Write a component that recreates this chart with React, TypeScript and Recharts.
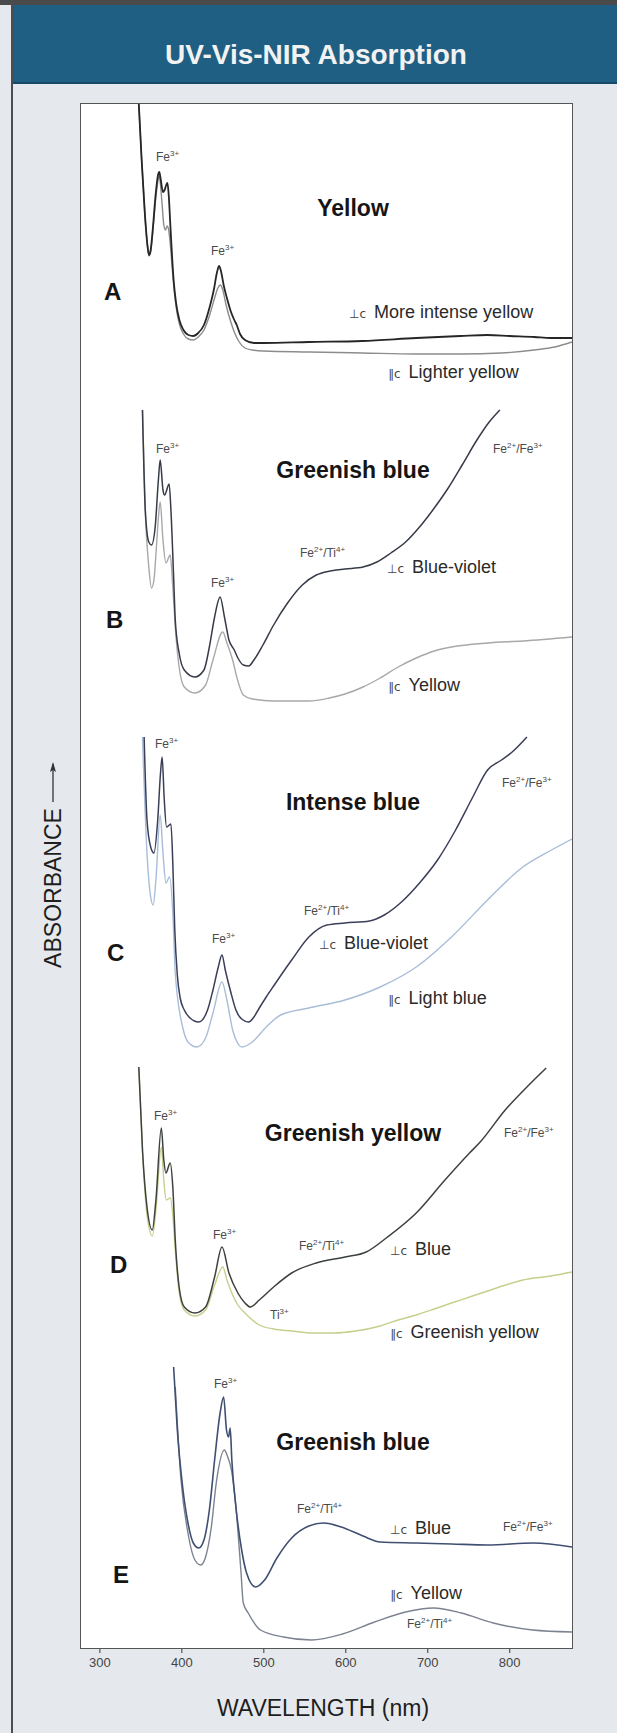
import React from "react";
import { Line, LineChart, XAxis, YAxis } from "recharts";

const FONT = '"Liberation Sans", Arial, Helvetica, sans-serif';

// plot frame in page pixels
const PLOT = { left: 81, top: 104, right: 572, bottom: 1648 };
const PX_PER_UNIT = 100;
const NM_DOMAIN: [number, number] = [277, 876];
const wavelengthTicks = [300, 400, 500, 600, 700, 800];

// A — yellow
const aPerpNm = [347.5, 351, 355, 358, 360, 362, 365, 368, 371, 372.5, 374, 377, 379, 381, 382.5, 384, 386, 388, 390, 393, 397, 402, 408, 414, 420, 427, 434, 439, 443, 445.5, 448, 451, 455, 460, 464, 467, 471, 477, 488, 500, 555, 620, 686, 740, 773, 800, 830, 850, 876];
const aPerpAbs = [2.56, 2.0, 1.45, 1.15, 1.05, 1.1, 1.35, 1.65, 1.85, 1.88, 1.82, 1.68, 1.7, 1.75, 1.77, 1.65, 1.35, 1.05, 0.8, 0.57, 0.4, 0.3, 0.25, 0.24, 0.27, 0.35, 0.53, 0.7, 0.88, 0.94, 0.88, 0.75, 0.62, 0.48, 0.4, 0.35, 0.26, 0.2, 0.17, 0.17, 0.18, 0.19, 0.22, 0.24, 0.25, 0.24, 0.23, 0.22, 0.22];
const aParNm = [347.5, 351, 355, 358, 360, 362, 365, 368, 371, 372.5, 374, 376, 378, 380, 382, 384, 386, 388, 390, 393, 397, 402, 408, 414, 420, 427, 434, 440, 444, 447, 450, 454, 459, 464, 470, 477, 486, 500, 555, 620, 686, 740, 790, 830, 855, 876];
const aParAbs = [2.56, 2.0, 1.45, 1.15, 1.04, 1.08, 1.32, 1.6, 1.8, 1.84, 1.75, 1.55, 1.35, 1.3, 1.34, 1.3, 1.15, 0.95, 0.75, 0.53, 0.36, 0.26, 0.21, 0.2, 0.23, 0.3, 0.45, 0.62, 0.72, 0.75, 0.7, 0.55, 0.4, 0.28, 0.18, 0.12, 0.1, 0.09, 0.08, 0.07, 0.06, 0.06, 0.07, 0.1, 0.13, 0.18];

// B — greenish blue
const bPerpNm = [352, 355.4, 359.7, 363, 367.5, 371.4, 373.6, 377, 379, 384.5, 386.7, 390, 392, 396.7, 403, 416, 427, 433.6, 440, 446.7, 452, 457.5, 464, 468.4, 475, 481.5, 488, 499, 512, 529, 547, 564, 581, 599, 621, 638, 655, 673, 690, 708, 725, 742, 760, 775, 788];
const bPerpAbs = [2.95, 1.95, 1.63, 1.6, 1.78, 2.25, 2.45, 2.15, 2.1, 2.21, 1.95, 1.28, 0.85, 0.52, 0.35, 0.28, 0.35, 0.58, 0.88, 1.08, 0.88, 0.65, 0.55, 0.47, 0.4, 0.39, 0.45, 0.6, 0.8, 1.02, 1.2, 1.3, 1.34, 1.36, 1.38, 1.43, 1.52, 1.63, 1.78, 1.97, 2.17, 2.4, 2.65, 2.83, 2.95];
const bParNm = [352, 355.4, 359.7, 363, 366, 369, 371.5, 373.6, 377, 380.6, 385.8, 389, 392, 396.7, 403, 416, 429, 438, 450, 455, 462, 468, 475, 486, 512, 555, 580, 599, 621, 642, 664, 686, 708, 729, 773, 816, 876];
const bParAbs = [2.95, 1.95, 1.38, 1.17, 1.25, 1.58, 1.88, 2.03, 1.65, 1.42, 1.5, 1.18, 0.78, 0.38, 0.18, 0.12, 0.2, 0.45, 0.73, 0.62, 0.45, 0.25, 0.1, 0.06, 0.04, 0.04, 0.07, 0.11, 0.18, 0.27, 0.38, 0.47, 0.54, 0.58, 0.62, 0.64, 0.68];

// C — intense blue
const cPerpNm = [354, 357.5, 362, 366, 370.6, 374, 376, 378.4, 381.4, 386.7, 389, 391.4, 394.5, 398, 403, 410, 420.6, 431.4, 438, 444.5, 449, 453, 460, 466, 473, 481.5, 488, 494.5, 503, 512, 534, 555, 577, 599, 629, 647, 668, 690, 712, 734, 755, 773, 790, 803, 821];
const cPerpAbs = [3.13, 2.3, 2.03, 1.97, 2.3, 2.77, 2.93, 2.53, 2.23, 2.26, 1.87, 1.2, 0.75, 0.52, 0.4, 0.32, 0.28, 0.4, 0.6, 0.83, 0.95, 0.8, 0.57, 0.4, 0.31, 0.28, 0.33, 0.42, 0.53, 0.64, 0.9, 1.13, 1.25, 1.27, 1.29, 1.35, 1.48, 1.67, 1.9, 2.2, 2.53, 2.8, 2.9, 2.98, 3.13];
const cParNm = [352, 357.5, 362, 365, 368.4, 373.6, 377, 380.6, 385, 389, 392, 401, 407.5, 418.4, 429, 438, 449, 455, 462, 468, 473.6, 486, 503, 520.6, 555, 599, 642, 686, 729, 773, 816, 851, 876];
const cParAbs = [3.13, 1.97, 1.53, 1.45, 1.7, 2.35, 1.97, 1.67, 1.73, 1.37, 0.77, 0.23, 0.08, 0.03, 0.12, 0.37, 0.68, 0.5, 0.2, 0.07, 0.03, 0.08, 0.23, 0.35, 0.42, 0.5, 0.63, 0.83, 1.13, 1.5, 1.83, 2.0, 2.11];

// D — greenish yellow
const dPerpNm = [347.5, 352, 357.5, 364, 368.4, 375, 378, 380.6, 385.8, 389, 392, 396.7, 403, 416, 429, 440, 449, 457.5, 468.4, 477, 483.6, 494.5, 512, 534, 564, 599, 625, 651, 686, 721, 751, 764, 794.5, 821, 844.5];
const dPerpAbs = [2.73, 1.9, 1.33, 1.1, 1.4, 2.12, 1.8, 1.67, 1.77, 1.53, 1.0, 0.53, 0.33, 0.27, 0.33, 0.63, 0.93, 0.67, 0.47, 0.37, 0.33, 0.4, 0.53, 0.67, 0.77, 0.83, 0.88, 1.03, 1.27, 1.6, 1.87, 1.98, 2.3, 2.53, 2.72];
const dParNm = [347.5, 352, 357.5, 364, 368.4, 375, 378, 381, 386, 389, 392, 396.7, 403, 416, 429, 440, 450, 455, 462, 468.4, 477, 486, 494.5, 512, 534, 560, 586, 612, 642, 664, 686, 708, 729, 751, 773, 795, 816, 850, 876];
const dParAbs = [2.73, 1.9, 1.25, 1.04, 1.3, 1.93, 1.6, 1.4, 1.42, 1.25, 0.9, 0.48, 0.3, 0.24, 0.3, 0.55, 0.73, 0.6, 0.45, 0.35, 0.27, 0.2, 0.15, 0.11, 0.09, 0.07, 0.07, 0.09, 0.14, 0.2, 0.25, 0.31, 0.37, 0.43, 0.49, 0.55, 0.6, 0.64, 0.68];

// E — greenish blue
const ePerpNm = [390, 394.5, 401, 407.5, 414, 420.6, 427, 433.6, 440, 446.7, 451, 454.5, 457, 459, 461, 466, 473, 479, 490, 501, 516, 534, 555, 573, 594.5, 621, 642, 686, 729, 773, 829, 876];
const ePerpAbs = [2.78, 2.15, 1.58, 1.22, 1.02, 0.97, 1.05, 1.35, 1.85, 2.32, 2.48, 2.15, 2.08, 2.17, 1.85, 1.38, 0.95, 0.72, 0.58, 0.65, 0.87, 1.07, 1.19, 1.22, 1.18, 1.09, 1.03, 1.02, 1.01, 1.0, 1.02, 0.98];
const eParNm = [392, 399, 407.5, 416, 423, 429, 436, 442, 452, 456, 460.5, 466, 472, 475, 481, 496, 524, 558, 596, 635, 673, 707, 741, 780, 828, 876];
const eParAbs = [2.58, 1.65, 1.12, 0.85, 0.8, 0.88, 1.18, 1.62, 1.95, 1.88, 1.75, 1.38, 0.75, 0.42, 0.32, 0.15, 0.08, 0.05, 0.11, 0.23, 0.33, 0.37, 0.32, 0.22, 0.15, 0.13];

type Pt = { nm: number; abs: number };
const pts = (nm: number[], abs: number[]): Pt[] => nm.map((x, i) => ({ nm: x, abs: abs[i] }));

// baseline = page y of zero absorbance for each stacked panel
const panels = [
  { id: "A", base: 360, par: pts(aParNm, aParAbs), perp: pts(aPerpNm, aPerpAbs), parColor: "#8c8c8c", perpColor: "#262626", perpW: 1.8 },
  { id: "B", base: 705, par: pts(bParNm, bParAbs), perp: pts(bPerpNm, bPerpAbs), parColor: "#a8a8a8", perpColor: "#363b47", perpW: 1.5 },
  { id: "C", base: 1050, par: pts(cParNm, cParAbs), perp: pts(cPerpNm, cPerpAbs), parColor: "#a9bdd8", perpColor: "#3a3e58", perpW: 1.5 },
  { id: "D", base: 1340, par: pts(dParNm, dParAbs), perp: pts(dPerpNm, dPerpAbs), parColor: "#c6cf8c", perpColor: "#3c423e", perpW: 1.5 },
  { id: "E", base: 1645, par: pts(eParNm, eParAbs), perp: pts(ePerpNm, ePerpAbs), parColor: "#7c8290", perpColor: "#3f4f72", perpW: 1.6 },
];

const panelTitles = [
  { text: "Yellow", y: 208 },
  { text: "Greenish blue", y: 470 },
  { text: "Intense blue", y: 802 },
  { text: "Greenish yellow", y: 1133 },
  { text: "Greenish blue", y: 1442 },
];
const panelLetters = [
  { text: "A", x: 104, y: 292 },
  { text: "B", x: 106, y: 620 },
  { text: "C", x: 107, y: 953 },
  { text: "D", x: 110, y: 1265 },
  { text: "E", x: 113, y: 1575 },
];
const orientLabels = [
  { sym: "⊥c", text: "More intense yellow", x: 349, y: 312 },
  { sym: "∥c", text: "Lighter yellow", x: 388, y: 372 },
  { sym: "⊥c", text: "Blue-violet", x: 387, y: 567 },
  { sym: "∥c", text: "Yellow", x: 388, y: 685 },
  { sym: "⊥c", text: "Blue-violet", x: 319, y: 943 },
  { sym: "∥c", text: "Light blue", x: 388, y: 998 },
  { sym: "⊥c", text: "Blue", x: 390, y: 1249 },
  { sym: "∥c", text: "Greenish yellow", x: 390, y: 1332 },
  { sym: "⊥c", text: "Blue", x: 390, y: 1528 },
  { sym: "∥c", text: "Yellow", x: 390, y: 1593 },
];
const FE3 = ["Fe", "3+"];
const FE_FE = ["Fe", "2+", "/Fe", "3+"];
const FE_TI = ["Fe", "2+", "/Ti", "4+"];
const ionLabels = [
  { parts: FE3, x: 156, y: 156 },
  { parts: FE3, x: 211, y: 250 },
  { parts: FE3, x: 156, y: 448 },
  { parts: FE_FE, x: 493, y: 448 },
  { parts: FE_TI, x: 300, y: 552 },
  { parts: FE3, x: 211, y: 582 },
  { parts: FE3, x: 155, y: 743 },
  { parts: FE_FE, x: 502, y: 782 },
  { parts: FE_TI, x: 304, y: 910 },
  { parts: FE3, x: 212, y: 938 },
  { parts: FE3, x: 154, y: 1115 },
  { parts: FE_FE, x: 504, y: 1132 },
  { parts: FE3, x: 213, y: 1234 },
  { parts: FE_TI, x: 299, y: 1245 },
  { parts: ["Ti", "3+"], x: 270, y: 1314 },
  { parts: FE3, x: 214, y: 1383 },
  { parts: FE_TI, x: 297, y: 1508 },
  { parts: FE_FE, x: 503, y: 1526 },
  { parts: FE_TI, x: 407, y: 1623 },
];

const abs = (x: number, y: number): React.CSSProperties => ({
  position: "absolute",
  left: x,
  top: y,
  whiteSpace: "nowrap",
  lineHeight: 1,
});

export default function App() {
  return (
    <div style={{ position: "absolute", left: 0, top: 0, width: 617, height: 1733, background: "#e5e9ed", fontFamily: FONT, overflow: "hidden" }}>
      <div style={{ position: "absolute", left: 0, top: 0, width: 617, height: 5, background: "#4a4a4a" }} />
      <div style={{ position: "absolute", left: 11, top: 5, width: 606, height: 77, background: "#1f5f83", borderBottom: "2px solid #174a68" }} />
      <div style={{ position: "absolute", left: 11, top: 0, width: 1.5, height: 1733, background: "#4d4d4d" }} />
      <div style={{ ...abs(316, 55), transform: "translate(-50%, -50%)", color: "#f2f2f2", fontWeight: 700, fontSize: 28 }}>
        UV-Vis-NIR Absorption
      </div>

      <div
        style={{
          position: "absolute",
          left: PLOT.left - 1,
          top: PLOT.top - 1,
          width: PLOT.right - PLOT.left + 2,
          height: PLOT.bottom - PLOT.top + 2,
          boxSizing: "border-box",
          border: "1.5px solid #555",
          background: "#ffffff",
        }}
      />

      <div style={{ position: "absolute", left: 0, top: 0 }}>
        <LineChart
          width={617}
          height={1733}
          margin={{ top: PLOT.top, left: PLOT.left, right: 617 - PLOT.right, bottom: 1733 - PLOT.bottom - 30 }}
        >
          <XAxis
            type="number"
            dataKey="nm"
            domain={NM_DOMAIN}
            allowDataOverflow
            ticks={wavelengthTicks}
            height={30}
            axisLine={false}
            tickLine={{ stroke: "#555", strokeWidth: 1.2 }}
            tickSize={5}
            tickMargin={5}
            tick={{ fontSize: 13, fill: "#444", fontFamily: FONT }}
          />
          {panels.map((p) => (
            <YAxis
              key={p.id}
              yAxisId={p.id}
              hide
              type="number"
              allowDataOverflow
              domain={[(p.base - PLOT.bottom) / PX_PER_UNIT, (p.base - PLOT.top) / PX_PER_UNIT]}
            />
          ))}
          {panels.map((p) => (
            <Line
              key={p.id + "par"}
              yAxisId={p.id}
              data={p.par}
              dataKey="abs"
              type="monotone"
              stroke={p.parColor}
              strokeWidth={1.4}
              dot={false}
              activeDot={false}
              isAnimationActive={false}
            />
          ))}
          {panels.map((p) => (
            <Line
              key={p.id + "perp"}
              yAxisId={p.id}
              data={p.perp}
              dataKey="abs"
              type="monotone"
              stroke={p.perpColor}
              strokeWidth={p.perpW}
              dot={false}
              activeDot={false}
              isAnimationActive={false}
            />
          ))}
        </LineChart>
      </div>

      {panelTitles.map((t, i) => (
        <div key={"t" + i} style={{ ...abs(353, t.y), transform: "translate(-50%, -50%)", fontWeight: 700, fontSize: 23, color: "#151515" }}>
          {t.text}
        </div>
      ))}
      {panelLetters.map((t) => (
        <div key={t.text} style={{ ...abs(t.x, t.y), transform: "translateY(-50%)", fontWeight: 700, fontSize: 24, color: "#151515" }}>
          {t.text}
        </div>
      ))}
      {orientLabels.map((t, i) => (
        <div key={"o" + i} style={{ ...abs(t.x, t.y), transform: "translateY(-50%)", fontSize: 18, color: "#2a2a2a" }}>
          <span style={{ fontSize: 12, marginRight: 8, fontFamily: '"DejaVu Sans", sans-serif', color: "#444" }}>{t.sym}</span>
          {t.text}
        </div>
      ))}
      {ionLabels.map((t, i) => (
        <div key={"i" + i} style={{ ...abs(t.x, t.y), transform: "translateY(-50%)", fontSize: 12, color: "#4a4a4a" }}>
          {t.parts.map((s, j) =>
            j % 2 === 0 ? (
              <span key={j}>{s}</span>
            ) : (
              <span key={j} style={{ fontSize: 8, verticalAlign: "5px" }}>
                {s}
              </span>
            )
          )}
        </div>
      ))}

      <div style={{ ...abs(323, 1708), transform: "translate(-50%, -50%)", fontSize: 23, color: "#1e1e1e" }}>WAVELENGTH (nm)</div>
      <div style={{ ...abs(53, 888), transform: "translate(-50%, -50%) rotate(-90deg)", fontSize: 23, color: "#1e1e1e" }}>ABSORBANCE</div>
      <svg width={20} height={44} style={{ position: "absolute", left: 43, top: 760 }}>
        <line x1={10} y1={42} x2={10} y2={4} stroke="#333" strokeWidth={1.3} />
        <path d="M10 2 L7 12 L10 10 L13 12 Z" fill="#333" />
      </svg>
    </div>
  );
}
